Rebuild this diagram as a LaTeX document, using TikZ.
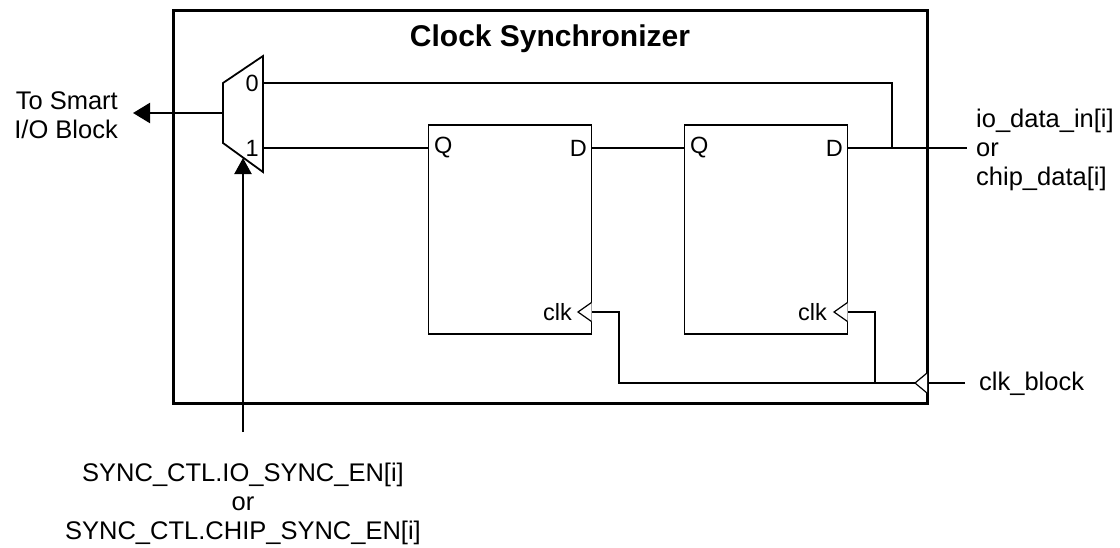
\documentclass[tikz,border=0pt]{standalone}
\usepackage{fontspec}
\setmainfont{Liberation Sans}
\usetikzlibrary{arrows.meta}
\begin{document}
\begin{tikzpicture}[x=1pt,y=-1pt,
  wire/.style={line width=2.2pt},
  ffbox/.style={draw,line width=1.5pt,minimum width=163pt,minimum height=209pt,inner sep=0pt},
  port/.style={font=\fontsize{23.5}{26}\selectfont,inner sep=0pt},
  lbl/.style={font=\fontsize{25.5}{29}\selectfont,inner sep=0pt},
  clktri/.style={draw,line width=1.2pt,fill=white,line join=miter}]
\useasboundingbox (0,0) rectangle (1120,547);

% outer box
\node[draw,line width=3pt,minimum width=754pt,minimum height=393pt,inner sep=0pt] (outer) at (550,206.5) {};
\node[font=\bfseries\fontsize{30}{34}\selectfont,inner sep=0pt] (title) at (550,38.5) {Clock Synchronizer};

% flip-flops
\node[ffbox] (ff1) at (510,229.5) {};
\node[ffbox] (ff2) at (766,229.5) {};

% mux
\coordinate (mtl) at (223,83);
\coordinate (mtr) at (263,56);
\coordinate (mbr) at (263,172);
\coordinate (mbl) at (223,143);
\draw[line width=1.8pt,line join=miter] (mtl) -- (mtr) -- (mbr) -- (mbl) -- cycle;
\node[port,anchor=east] (zero) at (259,83) {0};
\node[port,anchor=east] (one) at (259,148) {1};

% port coordinates
\coordinate (mout) at (223,113);
\coordinate (toarr) at (133,113);
\coordinate (min0) at (263,83);
\coordinate (min1) at (263,148);
\coordinate (q1) at (428.5,148);
\coordinate (d1) at (591.5,148);
\coordinate (q2) at (684.5,148);
\coordinate (d2) at (847.5,148);
\coordinate (jn) at (892,148);
\coordinate (jtop) at (892,83);
\coordinate (dataend) at (967,148);
\coordinate (syncbot) at (243,432);
\coordinate (synctip) at (243,158);
\coordinate (clkend) at (965,383);
\coordinate (clkedge) at (927,383);
\coordinate (clktip) at (915,383);
\coordinate (cka) at (619,383);
\coordinate (ckb) at (875,383);
\coordinate (clk1) at (591.5,312);
\coordinate (clk2) at (847.5,312);

% ports labels
\node[port,anchor=west] (q1l) at (434,148) {Q};
\node[port,anchor=east] (d1l) at (587,148) {D};
\node[port,anchor=west] (q2l) at (690,148) {Q};
\node[port,anchor=east] (d2l) at (843,148) {D};
\node[port,anchor=east] (ck1l) at (572,312) {clk};
\node[port,anchor=east] (ck2l) at (827,312) {clk};

% wires
\draw[wire,-{Triangle[length=17pt,width=20pt]}] (mout) -- (toarr);
\draw[wire] (min0) -- (jtop) -- (jn);
\draw[wire] (min1) -- (q1);
\draw[wire] (d1) -- (q2);
\draw[wire] (d2) -- (dataend);
\draw[wire,-{Triangle[length=16pt,width=17pt]}] (syncbot) -- (synctip);
\draw[wire] (clkend) -- (clkedge);
\draw[wire] (clktip) -- (cka) |- (clk1);
\draw[wire] (ckb) |- (clk2);

% clock triangles
\draw[clktri] (927,373) -- (clktip) -- (927,393);
\draw[clktri] (591.5,302.5) -- (578,312) -- (591.5,321.5);
\draw[clktri] (847.5,302.5) -- (834,312) -- (847.5,321.5);

% outer labels
\node[lbl,align=right,anchor=east] (smart) at (118,115) {To Smart\\I/O Block};
\node[lbl,align=left,anchor=west] (dlabel) at (976,150) {io\_data\_in[i]\\or\\chip\_data[i]};
\node[lbl,anchor=west] (clkb) at (979,384) {clk\_block};
\node[lbl,align=center] (sync) at (243,504) {SYNC\_CTL.IO\_SYNC\_EN[i]\\or\\SYNC\_CTL.CHIP\_SYNC\_EN[i]};
\end{tikzpicture}
\end{document}
